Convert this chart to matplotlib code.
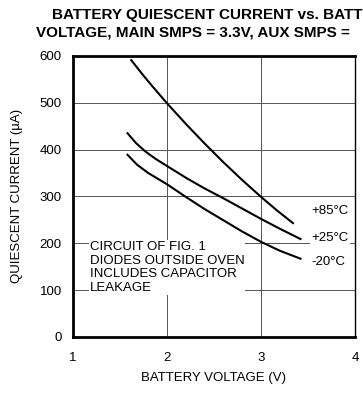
import matplotlib
matplotlib.use("Agg")
import matplotlib.pyplot as plt

# curves (battery voltage V, current uA)
v_85 = [1.62, 1.75, 1.85, 2.00, 2.20, 2.40, 2.60, 2.80, 3.00, 3.17, 3.34]
i_85 = [591, 558, 534, 499, 455, 413, 373, 335, 299, 270, 243]
v_25 = [1.58, 1.67, 1.77, 1.88, 2.00, 2.20, 2.40, 2.60, 2.80, 3.00, 3.20, 3.42]
i_25 = [435, 414, 396, 380, 365, 340, 317, 296, 274, 252, 231, 209]
v_m20 = [1.58, 1.68, 1.80, 2.00, 2.20, 2.40, 2.60, 2.80, 3.00, 3.20, 3.42]
i_m20 = [389, 368, 350, 326, 299, 273, 249, 225, 203, 184, 167]

curve_labels = ["+85°C", "+25°C", "-20°C"]
label_y = [268, 212, 160]

x_ticks = [1, 2, 3, 4]
y_ticks = [0, 100, 200, 300, 400, 500, 600]

note = "CIRCUIT OF FIG. 1\nDIODES OUTSIDE OVEN\nINCLUDES CAPACITOR\nLEAKAGE"

plt.rcParams['font.family'] = ['Liberation Sans', 'DejaVu Sans']

fig = plt.figure(figsize=(3.63, 3.94), dpi=100)
ax = fig.add_axes([0.201, 0.145, 0.777, 0.713])

ax.set_xlim(1, 4)
ax.set_ylim(0, 600)
ax.set_xticks(x_ticks)
ax.set_yticks(y_ticks)
ax.tick_params(length=0, labelsize=9.5, pad=8)
ax.tick_params(axis='x', pad=11)
ax.grid(True, color="#555555", lw=0.7)

for v, i in [(v_85, i_85), (v_25, i_25), (v_m20, i_m20)]:
    ax.plot(v, i, color="black", lw=1.5, solid_joinstyle="round")

for lab, y in zip(curve_labels, label_y):
    ax.text(3.54, y, lab, fontsize=9.5, va="center", ha="left",
            bbox=dict(fc="white", ec="none", pad=1))

ax.text(1.18, 205, note, fontsize=9.5, va="top", ha="left", linespacing=1.2,
        bbox=dict(fc="white", ec="none", pad=0.5))

for s in ['left', 'bottom', 'top']:
    ax.spines[s].set_linewidth(2)
ax.spines['right'].set_linewidth(1)

ax.set_xlabel("BATTERY VOLTAGE (V)", fontsize=9.5, labelpad=6)
ax.set_ylabel("QUIESCENT CURRENT (µA)", fontsize=9.5, labelpad=12)

fig.text(0.143, 0.962, "BATTERY QUIESCENT CURRENT vs. BATTERY", fontsize=11,
         fontweight="bold", ha="left", va="center")
fig.text(0.099, 0.918, "VOLTAGE, MAIN SMPS = 3.3V, AUX SMPS =", fontsize=11,
         fontweight="bold", ha="left", va="center")

fig.savefig("out.png", dpi=100)
